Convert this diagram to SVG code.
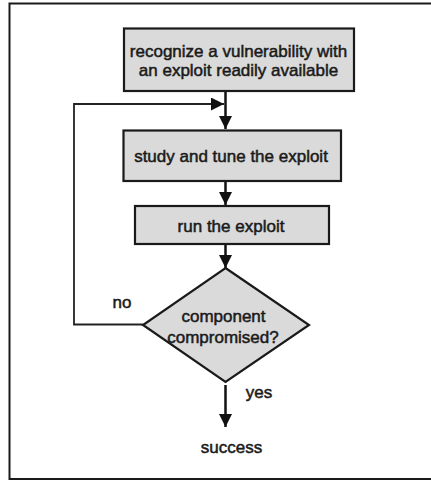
<svg xmlns="http://www.w3.org/2000/svg" width="431" height="481" viewBox="0 0 431 481">
  <defs>
    <marker id="arrow" markerWidth="13" markerHeight="13" refX="13" refY="6.5" orient="auto" markerUnits="userSpaceOnUse">
      <path d="M0,0 L13,6.5 L0,13 Z" fill="#111"/>
    </marker>
  </defs>
  <style>
    .frame { fill: none; stroke: #1a1a1a; }
    .node { fill: #dadada; stroke: #1a1a1a; stroke-width: 2.2; }
    .label { font-family: "Liberation Sans", Arial, sans-serif; font-size: 17px; fill: #1a1a1a; stroke: #1a1a1a; stroke-width: 0.5; text-anchor: middle; }
    .edge { fill: none; stroke: #111; stroke-width: 2.5; }
    .thin { fill: none; stroke: #222; stroke-width: 1.8; }
  </style>
  <rect width="431" height="481" fill="#ffffff"/>

  <!-- page frame, open on the right -->
  <g id="frame">
    <path class="frame" d="M435,3.5 H9.5 V479 H435" stroke-width="2"/>
  </g>

  <!-- connectors -->
  <g id="connectors">
    <line class="edge" x1="225.5" y1="91" x2="225.5" y2="129" marker-end="url(#arrow)"/>
    <polyline class="thin" points="143,324.5 74,324.5 74,104 224,104" marker-end="url(#arrow)"/>
    <line class="edge" x1="225.5" y1="181" x2="225.5" y2="205" marker-end="url(#arrow)"/>
    <line class="edge" x1="225.5" y1="244" x2="225.5" y2="268" marker-end="url(#arrow)"/>
    <line class="edge" x1="225.5" y1="385" x2="225.5" y2="427" marker-end="url(#arrow)"/>
  </g>

  <g id="recognize">
    <rect class="node" x="124" y="28.5" width="230" height="62.5"/>
    <text class="label" x="238.5" y="57">recognize a vulnerability with</text>
    <text class="label" x="238.5" y="76">an exploit readily available</text>
  </g>

  <g id="study">
    <rect class="node" x="123.5" y="130.5" width="217.5" height="50.5"/>
    <text class="label" x="231" y="162">study and tune the exploit</text>
  </g>

  <g id="run">
    <rect class="node" x="135" y="206" width="194" height="38"/>
    <text class="label" x="231" y="231.5">run the exploit</text>
  </g>

  <g id="decision">
    <polygon class="node" points="225.5,268 309,325 225.5,382 143,325"/>
    <text class="label" x="223.5" y="322">component</text>
    <text class="label" x="223" y="342.5">compromised?</text>
  </g>

  <g id="label-no">
    <text class="label" x="122" y="307.5">no</text>
  </g>
  <g id="label-yes">
    <text class="label" x="259" y="397.5">yes</text>
  </g>
  <g id="success">
    <text class="label" x="231.5" y="452.5">success</text>
  </g>
</svg>
